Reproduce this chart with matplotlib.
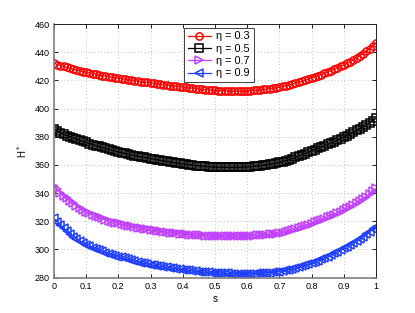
import numpy as np
from matplotlib import pyplot as plt

plt.rcParams['font.family'] = ['Liberation Sans', 'DejaVu Sans']

s = np.round(np.arange(0, 101) * 0.01, 2)

h_eta03 = [
    432.2, 431.3, 430.6, 429.9, 429.2, 428.6, 428.0, 427.4, 426.9, 426.3,
    425.8, 425.3, 424.9, 424.4, 424.0, 423.5, 423.1, 422.7, 422.3, 422.0,
    421.6, 421.2, 420.9, 420.5, 420.2, 419.8, 419.5, 419.2, 418.9, 418.6,
    418.3, 418.0, 417.7, 417.3, 417.0, 416.7, 416.4, 416.1, 415.8, 415.6,
    415.3, 415.0, 414.7, 414.5, 414.2, 413.9, 413.7, 413.5, 413.3, 413.1,
    412.9, 412.8, 412.7, 412.6, 412.5, 412.4, 412.4, 412.4, 412.5, 412.5,
    412.6, 412.8, 412.9, 413.1, 413.3, 413.6, 413.9, 414.2, 414.5, 414.9,
    415.2, 415.7, 416.2, 416.8, 417.4, 418.0, 418.7, 419.4, 420.2, 421.0,
    421.8, 422.6, 423.4, 424.2, 425.1, 426.0, 426.9, 427.9, 428.9, 429.9,
    431.0, 432.1, 433.3, 434.6, 436.0, 437.5, 439.1, 440.8, 442.6, 444.5,
    446.5]

h_eta05 = [
    385.5, 384.2, 383.0, 381.9, 380.9, 380.0, 379.1, 378.3, 377.5, 376.7,
    376.0, 375.2, 374.5, 373.8, 373.1, 372.4, 371.7, 371.1, 370.4, 369.8,
    369.2, 368.7, 368.2, 367.7, 367.2, 366.7, 366.2, 365.8, 365.3, 364.9,
    364.5, 364.1, 363.7, 363.3, 362.9, 362.5, 362.1, 361.8, 361.4, 361.1,
    360.7, 360.4, 360.2, 359.9, 359.6, 359.4, 359.2, 359.0, 358.8, 358.6,
    358.5, 358.4, 358.3, 358.3, 358.2, 358.2, 358.2, 358.3, 358.4, 358.5,
    358.6, 358.8, 359.0, 359.2, 359.5, 359.8, 360.1, 360.5, 360.9, 361.3,
    361.8, 362.4, 363.0, 363.7, 364.5, 365.3, 366.2, 367.1, 368.1, 369.0,
    370.0, 370.9, 371.8, 372.7, 373.6, 374.6, 375.6, 376.6, 377.6, 378.7,
    379.8, 380.9, 382.0, 383.2, 384.5, 385.8, 387.1, 388.5, 390.0, 391.5,
    393.0]

h_eta07 = [
    345.0, 342.6, 340.4, 338.3, 336.3, 334.5, 332.8, 331.2, 329.7, 328.2,
    326.8, 325.7, 324.7, 323.7, 322.8, 322.0, 321.2, 320.5, 319.8, 319.1,
    318.5, 317.9, 317.4, 316.9, 316.4, 315.9, 315.5, 315.0, 314.6, 314.2,
    313.8, 313.5, 313.2, 312.9, 312.6, 312.3, 312.0, 311.7, 311.5, 311.2,
    311.0, 310.8, 310.6, 310.4, 310.3, 310.1, 310.0, 309.9, 309.8, 309.7,
    309.6, 309.5, 309.5, 309.4, 309.4, 309.4, 309.4, 309.4, 309.5, 309.5,
    309.6, 309.7, 309.9, 310.0, 310.2, 310.3, 310.6, 310.8, 311.0, 311.3,
    311.5, 312.0, 312.5, 313.1, 313.7, 314.3, 315.1, 315.9, 316.7, 317.5,
    318.3, 319.2, 320.1, 321.0, 321.9, 322.8, 323.8, 324.8, 325.9, 326.9,
    328.0, 329.2, 330.4, 331.7, 333.1, 334.5, 336.0, 337.6, 339.4, 341.3,
    343.3]

h_eta09 = [
    322.1, 319.6, 317.3, 315.0, 312.9, 311.0, 309.2, 307.5, 306.0, 304.6,
    303.2, 302.2, 301.2, 300.3, 299.4, 298.6, 297.8, 297.1, 296.4, 295.7,
    295.0, 294.3, 293.7, 293.0, 292.4, 291.8, 291.3, 290.7, 290.2, 289.7,
    289.2, 288.8, 288.4, 288.0, 287.6, 287.2, 286.9, 286.6, 286.2, 285.9,
    285.6, 285.3, 285.1, 284.8, 284.6, 284.3, 284.1, 283.9, 283.7, 283.6,
    283.4, 283.3, 283.2, 283.1, 283.0, 282.9, 282.9, 282.8, 282.8, 282.8,
    282.8, 282.8, 282.9, 283.0, 283.1, 283.2, 283.4, 283.6, 283.8, 284.0,
    284.3, 284.7, 285.2, 285.7, 286.2, 286.8, 287.4, 288.1, 288.8, 289.5,
    290.2, 291.1, 292.0, 293.0, 294.0, 295.0, 296.1, 297.2, 298.4, 299.6,
    300.8, 302.1, 303.4, 304.7, 306.1, 307.5, 309.1, 310.8, 312.6, 314.3,
    316.0]

labels = ['η = 0.3', 'η = 0.5', 'η = 0.7', 'η = 0.9']
colors = ['#ff0000', '#000000', '#bf40ff', '#1f3fff']
markers = ['o', 's', '>', '<']

fig = plt.figure(figsize=(4.15, 3.13), dpi=100)
ax = fig.add_axes([0.130, 0.113, 0.776, 0.810])

for y, lab, c, m in zip([h_eta03, h_eta05, h_eta07, h_eta09], labels, colors, markers):
    ax.plot(s, y, color=c, marker=m, markersize=5.2, markerfacecolor='none',
            markeredgewidth=1.1, linewidth=0.9, label=lab)

ax.set_xlim(0, 1)
ax.set_ylim(280, 460)
ax.set_xticks(np.arange(0, 1.01, 0.1))
ax.set_xticklabels(['0', '0.1', '0.2', '0.3', '0.4', '0.5', '0.6', '0.7', '0.8', '0.9', '1'])
ax.set_yticks(np.arange(280, 461, 20))
ax.tick_params(direction='in', length=3, width=0.6, labelsize=6.5, pad=3,
               top=True, right=True)
ax.grid(True, linestyle=(0, (1, 3)), color='#b0b0b0', linewidth=0.6)

for side in ['top', 'right']:
    ax.spines[side].set_color('#202020')
    ax.spines[side].set_linewidth(0.7)
for side in ['left', 'bottom']:
    ax.spines[side].set_color('#808080')
    ax.spines[side].set_linewidth(1.2)

ax.set_xlabel('s', fontsize=7, labelpad=2)
ax.set_ylabel('H$^*$', fontsize=7, labelpad=4)

leg = ax.legend(loc='upper center', bbox_to_anchor=(0.512, 0.995), fontsize=7.8,
                handlelength=2.1, handletextpad=0.5, borderpad=0.35,
                labelspacing=0.22, borderaxespad=0.2, fancybox=False, framealpha=1)
leg.get_frame().set_edgecolor('#404040')
leg.get_frame().set_linewidth(0.7)

fig.savefig('out.png', dpi=100)
